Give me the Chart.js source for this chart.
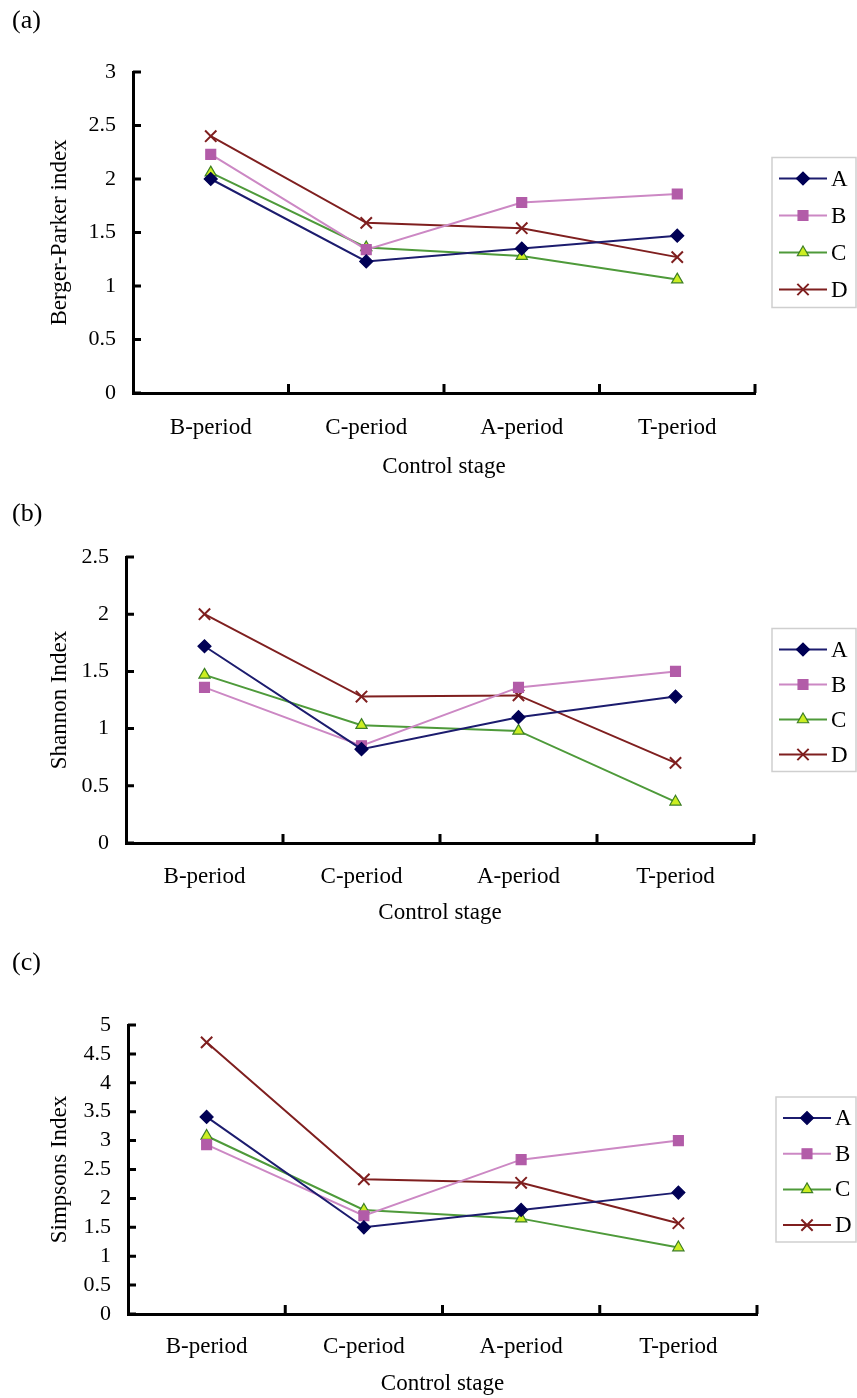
<!DOCTYPE html>
<html lang="en">
<head>
<meta charset="UTF-8" />
<title>Diversity indices by control stage</title>
<script src="https://cdn.jsdelivr.net/npm/chart.js"></script>
<style>
  body { margin: 0; background: #fff; font-family: "Liberation Serif", "Times New Roman", serif; }
  #page { position: relative; width: 857px; height: 1398px; overflow: hidden; }
  .chart-box { position: absolute; left: 0; width: 857px; }
  .panel-label { position: absolute; font-size: 26px; line-height: 28px; color: #000; }
</style>
</head>
<body>
<div id="page">
  <div class="chart-box" style="top:0;"><canvas id="chartA" width="857" height="490"></canvas></div>
  <div class="chart-box" style="top:490px;"><canvas id="chartB" width="857" height="445"></canvas></div>
  <div class="chart-box" style="top:935px;"><canvas id="chartC" width="857" height="463"></canvas></div>
  <div class="panel-label" style="left:12px; top:6px;">(a)</div>
  <div class="panel-label" style="left:12px; top:499px;">(b)</div>
  <div class="panel-label" style="left:12px; top:948px;">(c)</div>
</div>

<script>
  // categories and series names
  const categories = ['B-period', 'C-period', 'A-period', 'T-period'];
  const seriesNames = ['A', 'B', 'C', 'D'];

  // (a) Berger-Parker index
  const bergerA = [2.00, 1.23, 1.35, 1.47];
  const bergerB = [2.23, 1.34, 1.78, 1.86];
  const bergerC = [2.06, 1.36, 1.28, 1.06];
  const bergerD = [2.40, 1.59, 1.54, 1.27];

  // (b) Shannon index
  const shannonA = [1.72, 0.82, 1.10, 1.28];
  const shannonB = [1.36, 0.85, 1.36, 1.50];
  const shannonC = [1.47, 1.03, 0.98, 0.36];
  const shannonD = [2.00, 1.28, 1.29, 0.70];

  // (c) Simpsons index
  const simpsonA = [3.41, 1.50, 1.80, 2.10];
  const simpsonB = [2.93, 1.70, 2.67, 3.00];
  const simpsonC = [3.08, 1.80, 1.65, 1.15];
  const simpsonD = [4.70, 2.33, 2.27, 1.57];

  // series looks
  const lineColors = ['#1c1c6e', '#cc88c4', '#4e9a3a', '#7f1f1f'];
  const markerFill = ['#000055', '#b25ca8', '#ccee22', '#7f1f1f'];
  const markerEdge = ['#000055', '#b25ca8', '#3d7f25', '#7f1f1f'];
  const markerShape = ['rectRot', 'rect', 'triangle', 'crossRot'];
  const markerSize = [6.5, 7, 6.5, 8];

  const serif = '"Liberation Serif", "Times New Roman", serif';
  Chart.defaults.font.family = serif;
  Chart.defaults.color = '#000';

  // small tick marks pointing into the plot
  const inwardTicks = {
    id: 'inwardTicks',
    afterDraw(chart) {
      const ctx = chart.ctx, area = chart.chartArea;
      const xs = chart.scales.x, ys = chart.scales.y;
      ctx.save();
      ctx.strokeStyle = '#000';
      ctx.lineWidth = 3;
      ctx.beginPath();
      ys.ticks.forEach(t => {
        const py = ys.getPixelForValue(t.value);
        ctx.moveTo(area.left, py);
        ctx.lineTo(area.left + 8, py);
      });
      const half = (xs.getPixelForValue(1) - xs.getPixelForValue(0)) / 2;
      xs.ticks.forEach((t, i) => {
        const px = xs.getPixelForValue(i) + half;
        ctx.moveTo(px, area.bottom);
        ctx.lineTo(px, area.bottom - 9);
      });
      ctx.stroke();
      ctx.restore();
    }
  };

  // boxed legend with line + marker samples
  const boxLegend = {
    id: 'boxLegend',
    afterDraw(chart, args, opts) {
      const ctx = chart.ctx, area = chart.chartArea;
      const top = (area.top + area.bottom) / 2 - opts.height / 2;
      ctx.save();
      ctx.strokeStyle = '#cfcfcf';
      ctx.lineWidth = 1.5;
      ctx.strokeRect(opts.left, top, opts.right - opts.left, opts.height);
      chart.data.datasets.forEach((ds, i) => {
        const cy = top + 21 + i * opts.step;
        ctx.strokeStyle = ds.borderColor;
        ctx.lineWidth = 2;
        ctx.beginPath();
        ctx.moveTo(opts.left + 7, cy);
        ctx.lineTo(opts.left + 55, cy);
        ctx.stroke();
        ctx.fillStyle = ds.pointBackgroundColor;
        ctx.strokeStyle = ds.pointBorderColor;
        ctx.lineWidth = ds.pointBorderWidth;
        Chart.helpers.drawPoint(ctx, {
          pointStyle: ds.pointStyle, radius: ds.pointRadius,
          rotation: 0, borderWidth: ds.pointBorderWidth
        }, opts.left + 31, cy);
        ctx.fillStyle = '#000';
        ctx.font = '23px ' + serif;
        ctx.textBaseline = 'middle';
        ctx.textAlign = 'left';
        ctx.fillText(ds.label, opts.left + 59, cy + 1);
      });
      ctx.restore();
    }
  };

  function makeChart(id, series, yMax, yTitle, L) {
    const datasets = series.map((vals, i) => ({
      label: seriesNames[i],
      data: vals,
      borderColor: lineColors[i],
      borderWidth: 2,
      pointStyle: markerShape[i],
      pointRadius: markerSize[i],
      pointHoverRadius: markerSize[i],
      pointBackgroundColor: markerFill[i],
      pointBorderColor: markerEdge[i],
      pointBorderWidth: i === 3 ? 2 : 1.2,
      tension: 0,
      fill: false
    }));
    return new Chart(document.getElementById(id), {
      type: 'line',
      data: { labels: categories, datasets: datasets },
      plugins: [inwardTicks, boxLegend],
      options: {
        responsive: false,
        animation: false,
        layout: { padding: { top: L.top, right: L.right, left: 0, bottom: 0 } },
        plugins: {
          legend: { display: false },
          tooltip: { enabled: false },
          boxLegend: { left: L.legLeft, right: 856, height: L.legHeight, step: L.legStep }
        },
        scales: {
          x: {
            offset: true,
            grid: { display: false, drawTicks: false },
            border: { color: '#000', width: 3 },
            ticks: { font: { size: 23 }, padding: L.xPad, maxRotation: 0, autoSkip: false },
            title: { display: true, text: 'Control stage', font: { size: 23 }, padding: { top: 0, bottom: L.titlePad } },
            afterFit(s) { s.height = L.xHeight; }
          },
          y: {
            min: 0,
            max: yMax,
            grid: { display: false, drawTicks: false },
            border: { color: '#000', width: 3 },
            ticks: { stepSize: 0.5, autoSkip: false, font: { size: 22 }, padding: 17, callback: v => String(v) },
            title: { display: true, text: yTitle, font: { size: 23 }, padding: { top: 46, bottom: 0 } },
            afterFit(s) { s.width = L.yWidth; }
          }
        }
      }
    });
  }

  makeChart('chartA', [bergerA, bergerB, bergerC, bergerD], 3, 'Berger-Parker index',
    { top: 72, right: 102, yWidth: 133, xHeight: 97, xPad: 21, titlePad: 9, legLeft: 772, legHeight: 150, legStep: 37 });
  makeChart('chartB', [shannonA, shannonB, shannonC, shannonD], 2.5, 'Shannon Index',
    { top: 67, right: 103, yWidth: 126, xHeight: 92, xPad: 20, titlePad: 8, legLeft: 772, legHeight: 143, legStep: 35 });
  makeChart('chartC', [simpsonA, simpsonB, simpsonC, simpsonD], 5, 'Simpsons Index',
    { top: 90, right: 100, yWidth: 128, xHeight: 84, xPad: 19, titlePad: 0, legLeft: 776, legHeight: 145, legStep: 35.7 });
</script>
</body>
</html>
